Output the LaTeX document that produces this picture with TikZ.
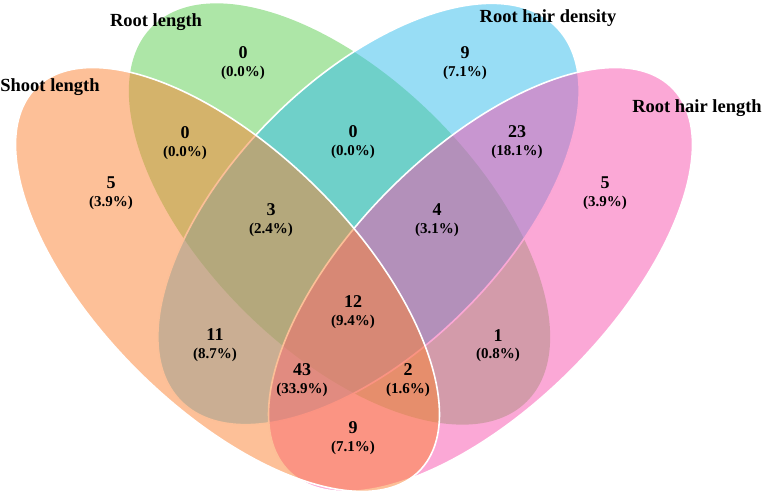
\documentclass[tikz,border=0pt]{standalone}
\usepackage{fontspec}
\setmainfont{Liberation Serif}
\definecolor{orangeC}{RGB}{251,129,49}
\definecolor{greenC}{RGB}{92,205,80}
\definecolor{blueC}{RGB}{50,188,235}
\definecolor{pinkC}{RGB}{248,81,173}
\tikzset{
  setfill/.style={fill opacity=0.5, draw opacity=1},
  edge/.style={draw=white, line width=1.6pt},
  numtxt/.style={font=\fontsize{18}{18}\selectfont\bfseries, inner sep=0pt},
  pcttxt/.style={font=\fontsize{15}{15}\selectfont\bfseries, inner sep=0pt},
  settxt/.style={font=\fontsize{18.5}{18.5}\selectfont\bfseries, inner sep=0pt}
}
% #1 name, #2 x, #3 image y of number, #4 image y of percent, #5 number, #6 percent
\newcommand\vreg[6]{%
  \node[numtxt] (#1n) at (#2,{492-#3}) {#5};
  \node[pcttxt] (#1p) at (#2,{492-#4}) {#6};
}
\begin{document}
\begin{tikzpicture}[x=1pt,y=1pt]
\useasboundingbox (0,0) rectangle (763,492);
% Root length (green)
\path[setfill, fill=greenC, rotate around={-45:(339.5,278)}] (339.5,278) ellipse (265 and 136);
% Root hair density (blue)
\path[setfill, fill=blueC, edge, rotate around={45:(368.5,278)}] (368.5,278) ellipse (265 and 136);
% Root hair length (pink)
\path[setfill, fill=pinkC, edge, rotate around={45:(480.5,212.5)}] (480.5,212.5) ellipse (271 and 128);
% Shoot length (orange)
\path[setfill, fill=orangeC, edge, rotate around={-45:(227.5,212.5)}] (227.5,212.5) ellipse (271 and 128);

\node[settxt] (lshoot) at (50,{492-87}) {Shoot length};
\node[settxt] (lroot) at (156,{492-22}) {Root length};
\node[settxt] (ldens) at (548,{492-18}) {Root hair density};
\node[settxt] (lhair) at (697,{492-108}) {Root hair length};

\vreg{a}{111}{183}{203}{5}{(3.9\%)}
\vreg{b}{243}{53}{73}{0}{(0.0\%)}
\vreg{c}{465}{53}{73}{9}{(7.1\%)}
\vreg{d}{605}{183}{203}{5}{(3.9\%)}
\vreg{ab}{185}{133}{153}{0}{(0.0\%)}
\vreg{bc}{353}{132}{152}{0}{(0.0\%)}
\vreg{cd}{517}{132}{152}{23}{(18.1\%)}
\vreg{abc}{271}{210}{230}{3}{(2.4\%)}
\vreg{bcd}{437}{210}{230}{4}{(3.1\%)}
\vreg{ac}{215}{335}{355}{11}{(8.7\%)}
\vreg{bd}{498}{336}{355}{1}{(0.8\%)}
\vreg{abcd}{353}{302}{322}{12}{(9.4\%)}
\vreg{acd}{302}{370}{390}{43}{(33.9\%)}
\vreg{abd}{408}{370}{390}{2}{(1.6\%)}
\vreg{ad}{353}{428}{448}{9}{(7.1\%)}
\end{tikzpicture}
\end{document}
